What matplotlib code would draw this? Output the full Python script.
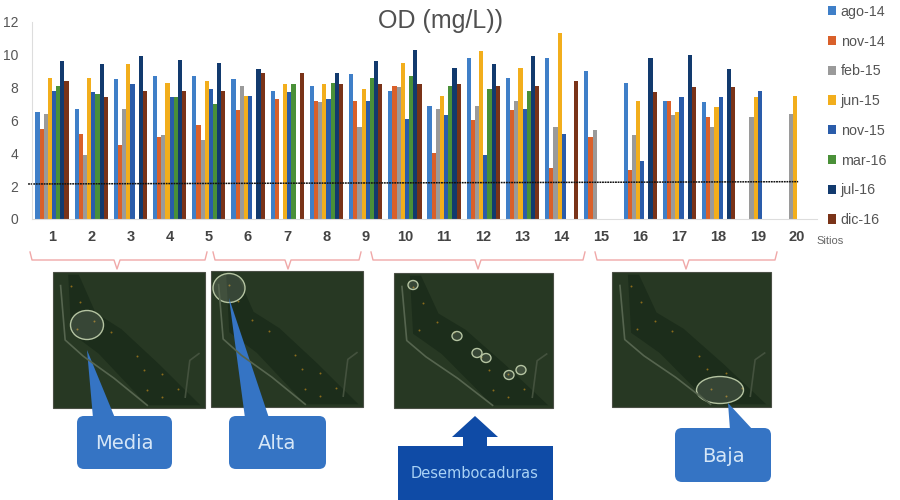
import numpy as np
import matplotlib
matplotlib.use("Agg")
import matplotlib.pyplot as plt
from matplotlib.patches import Rectangle, FancyBboxPatch, Polygon, Ellipse

plt.rcParams['font.family'] = ['Liberation Sans', 'DejaVu Sans']

nan = np.nan

sites = list(range(1, 21))
ago14 = [6.5, 6.7, 8.5, 8.7, 8.7, 8.5, 7.8, 8.1, 8.8, 7.8, 6.9, 9.8, 8.6, 9.8, 9.0, 8.3, 7.2, 7.1, nan, nan]
nov14 = [5.5, 5.2, 4.5, 5.0, 5.7, 6.6, 7.3, 7.2, 7.2, 8.1, 4.0, 6.0, 6.6, 3.1, 5.0, 3.0, 7.2, 6.2, nan, nan]
feb15 = [6.4, 3.9, 6.7, 5.1, 4.8, 8.1, nan, 7.1, 5.6, 8.0, 6.7, 6.9, 7.2, 5.6, 5.4, 5.1, 6.3, 5.6, 6.2, 6.4]
jun15 = [8.6, 8.6, 9.4, 8.3, 8.4, 7.5, 8.2, 8.2, 7.9, 9.5, 7.5, 10.2, 9.2, 11.3, nan, 7.2, 6.5, 6.8, 7.4, 7.5]
nov15 = [7.8, 7.7, 8.2, 7.4, 7.9, 7.5, 7.7, 7.3, 7.2, 6.1, 6.3, 3.9, 6.7, 5.2, nan, 3.5, 7.4, 7.4, 7.8, nan]
mar16 = [8.1, 7.6, nan, 7.4, 7.0, nan, 8.2, 8.3, 8.6, 8.7, 8.1, 7.9, 7.8, nan, nan, nan, nan, nan, nan, nan]
jul16 = [9.6, 9.4, 9.9, 9.7, 9.5, 9.1, nan, 8.9, 9.6, 10.3, 9.2, 9.4, 9.9, nan, nan, 9.8, 10.0, 9.1, nan, nan]
dic16 = [8.4, 7.4, 7.8, 7.8, 7.8, 8.9, 8.9, 8.2, 8.2, 8.2, 8.2, 8.1, 8.1, 8.4, nan, 7.7, 8.0, 8.0, nan, nan]

series = [ago14, nov14, feb15, jun15, nov15, mar16, jul16, dic16]
series_labels = ['ago-14', 'nov-14', 'feb-15', 'jun-15', 'nov-15', 'mar-16', 'jul-16', 'dic-16']
colors = ['#3f7fc8', '#d9602a', '#9a9a9a', '#f2ae1c', '#2a5caa', '#4a9038', '#123a6e', '#7a3318']

threshold_x = [0.39, 20.03]
threshold_y = [2.13, 2.27]

region_names = ['Media', 'Alta', 'Baja']

fig = plt.figure(figsize=(9, 5), dpi=100)
ax = fig.add_axes([32 / 900, 1 - 219 / 500, 785 / 900, 197.3 / 500])

x = np.array(sites)
width = 0.106
for i, (vals, lab, col) in enumerate(zip(series, series_labels, colors)):
    ax.bar(x + (i - 3.5) * width, vals, width=width, color=col, label=lab, linewidth=0)

ax.plot(threshold_x, threshold_y, color='#111111', lw=1.1, linestyle=(0, (1.2, 0.5)), clip_on=False)

ax.set_xlim(0.49, 20.51)
ax.set_ylim(0, 12)
ax.set_xticks(x)
ax.set_xticklabels(sites, fontsize=10.5, fontweight='bold', color='#444444')
ax.set_yticks(range(0, 13, 2))
ax.tick_params(axis='y', length=0, pad=10, labelsize=10, labelcolor='#555555')
ax.tick_params(axis='x', length=0, pad=8)
for side in ['top', 'right']:
    ax.spines[side].set_visible(False)
for side in ['left', 'bottom']:
    ax.spines[side].set_color('#dddddd')
    ax.spines[side].set_linewidth(0.8)

ax.legend(loc='upper left', bbox_to_anchor=(825 / 900, 1 - 2 / 500), bbox_transform=fig.transFigure,
          frameon=False, fontsize=10.3, handlelength=0.6, handleheight=0.6, handletextpad=0.3,
          labelspacing=1.1, borderaxespad=0, borderpad=0.2, labelcolor='#555555')

# everything below the chart is placed in pixel coords
over = fig.add_axes([0, 0, 1, 1], facecolor='none')
over.set_xlim(0, 900)
over.set_ylim(500, 0)
over.axis('off')

over.text(441, 21, 'OD (mg/L))', ha='center', va='center', fontsize=18, color='#505050')
over.text(830, 241, 'Sitios', ha='center', va='center', fontsize=8, color='#666666')


def brace(x0, x1, tip, y=260):
    xs = [x0, x0 + 2, tip - 3, tip, tip + 3, x1 - 2, x1]
    ys = [y - 8, y, y, y + 9, y, y, y - 8]
    over.plot(xs, ys, color='#f0a8a8', lw=1)


brace(30, 207, 117)
brace(213, 361, 288)
brace(371, 585, 478)
brace(595, 777, 686)


def draw_map(x0, y0, x1, y1):
    w = x1 - x0
    h = y1 - y0

    def px(pts):
        return [(x0 + a * w, y0 + b * h) for a, b in pts]

    over.add_patch(Rectangle((x0, y0), w, h, fc='#273823', ec='#4a4f45', lw=0.8))
    over.add_patch(Polygon(px([(0.1, 0.02), (0.12, 0.45), (0.3, 0.6), (0.62, 0.98), (0.97, 0.98),
                               (0.7, 0.68), (0.45, 0.42), (0.28, 0.3), (0.17, 0.02)]),
                           fc='#1c2d1b', ec='none'))
    river = px([(0.05, 0.1), (0.08, 0.5), (0.2, 0.62), (0.4, 0.78), (0.62, 0.98)])
    over.plot([p[0] for p in river], [p[1] for p in river], color='#56654f', lw=1.2)
    side = px([(0.87, 0.92), (0.9, 0.65), (0.96, 0.6)])
    over.plot([p[0] for p in side], [p[1] for p in side], color='#44523e', lw=1.2)
    dots = px([(0.16, 0.42), (0.27, 0.36), (0.38, 0.44), (0.55, 0.62), (0.6, 0.72), (0.72, 0.75),
               (0.62, 0.87), (0.72, 0.92), (0.82, 0.86), (0.12, 0.1), (0.18, 0.22)])
    over.scatter([p[0] for p in dots], [p[1] for p in dots], s=2, color='#8a6c1c', linewidths=0)


def ring(cx, cy, w, h):
    over.add_patch(Ellipse((cx, cy), w, h, fc=(1, 1, 1, 0.12), ec='#b5c4a2', lw=1))


draw_map(53, 272, 205, 408)
draw_map(211, 271, 363, 407)
draw_map(394, 273, 553, 408)
draw_map(612, 272, 771, 407)

ring(87, 325, 33, 29)
ring(229, 288, 32, 29)
for cx, cy in [(413, 285), (457, 336), (477, 353), (486, 358), (509, 375), (521, 370)]:
    ring(cx, cy, 10, 9)
ring(720, 390, 47, 27)


def callout(x0, y0, x1, y1, tip, base0, base1, name):
    col = '#3574c4'
    over.add_patch(FancyBboxPatch((x0 + 6, y0 + 6), x1 - x0 - 12, y1 - y0 - 12,
                                  boxstyle='round,pad=6,rounding_size=7', fc=col, ec='none'))
    over.add_patch(Polygon([tip, (base0, y0 + 2), (base1, y0 + 2)], fc=col, ec='none'))
    over.text((x0 + x1) / 2, (y0 + y1) / 2 + 1, name, ha='center', va='center',
              fontsize=14, color='#d5e6f7', family='DejaVu Sans')


callout(77, 416, 172, 469, (87, 350), 93, 115, region_names[0])
callout(229, 416, 326, 469, (229, 298), 245, 269, region_names[1])
callout(675, 428, 771, 482, (728, 403), 730, 753, region_names[2])

# Desembocaduras box and arrow
dark = '#0f4ba6'
over.add_patch(Rectangle((398, 446), 155, 54, fc=dark, ec='none'))
over.add_patch(Polygon([(475, 416), (498, 437), (487, 437), (487, 447), (463, 447), (463, 437), (452, 437)],
                       fc=dark, ec='none'))
over.text(475, 473, 'Desembocaduras', ha='center', va='center', fontsize=10.5, color='#a9d2f5',
          family='DejaVu Sans')

fig.savefig('out.png', dpi=100)
